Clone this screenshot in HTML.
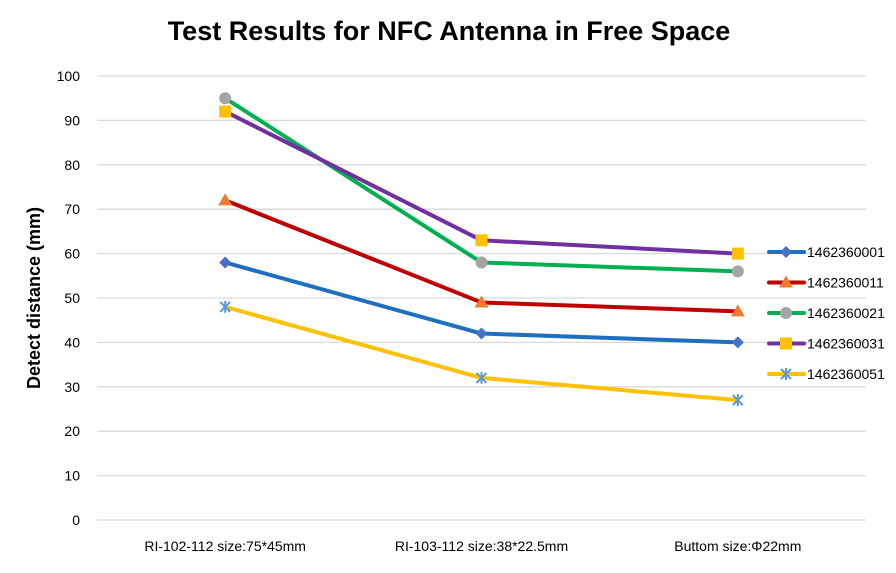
<!DOCTYPE html>
<html><head><meta charset="utf-8"><style>
body{margin:0;background:#fff;font-family:"Liberation Sans",sans-serif}
</style></head><body>
<svg width="896" height="568" xmlns="http://www.w3.org/2000/svg">
<text x="449" y="40" text-anchor="middle" font-size="27" font-weight="bold" fill="#000">Test Results for NFC Antenna in Free Space</text>
<text transform="translate(40,298) rotate(-90)" text-anchor="middle" font-size="18" font-weight="bold" fill="#000">Detect distance (mm)</text>
<g id="grid"></g><g id="xl"></g><g id="series"></g><g id="legend"></g>
</svg>
<script>
const categories=["RI-102-112 size:75*45mm","RI-103-112 size:38*22.5mm","Buttom size:\u03A622mm"];
const seriesNames=["1462360001","1462360011","1462360021","1462360031","1462360051"];
const s001=[58,42,40];
const s011=[72,49,47];
const s021=[95,58,56];
const s031=[92,63,60];
const s051=[48,32,27];
const yTicks=[0,10,20,30,40,50,60,70,80,90,100];
const seriesValues=[s001,s011,s021,s031,s051];
const colors=["#1f6fc0","#c00000","#00b050","#7030a0","#ffc000"];
const markerColors=["#4472c4","#ed7d31","#a5a5a5","#ffc000","#5b9bd5"];
const markers=["diamond","triangle","circle","square","star"];
const NS="http://www.w3.org/2000/svg";
const L=97,R=866,Y0=520,Y1=76;
const y=v=>Y0-(v-0)/(100-0)*(Y0-Y1);
const bw=(R-L)/categories.length;
const x=i=>L+bw*(i+0.5);
function mk(t,a,p){const e=document.createElementNS(NS,t);for(const k in a)e.setAttribute(k,a[k]);p.appendChild(e);return e;}
const grid=document.getElementById('grid');
yTicks.forEach(v=>{
 const l=mk('line',{x1:L,x2:R,y1:y(v),y2:y(v),stroke:'#d9d9d9','stroke-width':1.3},grid);
 
 
 const t=mk('text',{x:80,y:y(v)+5,'text-anchor':'end','font-size':14,fill:'#000'},grid);
 t.textContent=v;
 
 
});
const xl=document.getElementById('xl');
categories.forEach((c,i)=>{
 const t=mk('text',{x:x(i),y:551,'text-anchor':'middle','font-size':14,fill:'#000'},xl);
 t.textContent=c;
 
 
});
function marker(type,cx,cy,col,p,s){
 let e;
 if(type=='diamond')e=mk('polygon',{points:`${cx},${cy-6} ${cx+6},${cy} ${cx},${cy+6} ${cx-6},${cy}`,fill:col},p);
 else if(type=='triangle')e=mk('polygon',{points:`${cx},${cy-7} ${cx+7},${cy+5} ${cx-7},${cy+5}`,fill:col},p);
 else if(type=='circle')e=mk('circle',{cx:cx,cy:cy,r:6,fill:col},p);
 else if(type=='square')e=mk('rect',{x:cx-6,y:cy-6,width:12,height:12,fill:col},p);
 else{e=mk('path',{d:`M${cx-5},${cy-5}L${cx+5},${cy+5}M${cx+5},${cy-5}L${cx-5},${cy+5}M${cx},${cy-6}L${cx},${cy+6}`,stroke:col,'stroke-width':2,fill:'none'},p);}
 
 
}
const sg=document.getElementById('series');
seriesValues.forEach((vals,si)=>{
 const g=mk('g',{},sg);
 
 
 const pl=mk('polyline',{points:vals.map((v,i)=>x(i)+','+y(v)).join(' '),fill:'none',stroke:colors[si],'stroke-width':4,'stroke-linejoin':'round'},g);
 
 
 vals.forEach((v,i)=>marker(markers[si],x(i),y(v),markerColors[si],g,seriesNames[si]));
});
const lg=document.getElementById('legend');
seriesNames.forEach((n,si)=>{
 const cy=252+si*30.5;
 const g=mk('g',{},lg);
 
 
 mk('line',{x1:769,x2:804,y1:cy,y2:cy,stroke:colors[si],'stroke-width':4,'stroke-linecap':'round'},g);
 marker(markers[si],786,cy,markerColors[si],g,'legend-'+n);
 const t=mk('text',{x:807,y:cy+5,'font-size':14,fill:'#000'},g);
 t.textContent=n;
});
</script>
</body></html>
